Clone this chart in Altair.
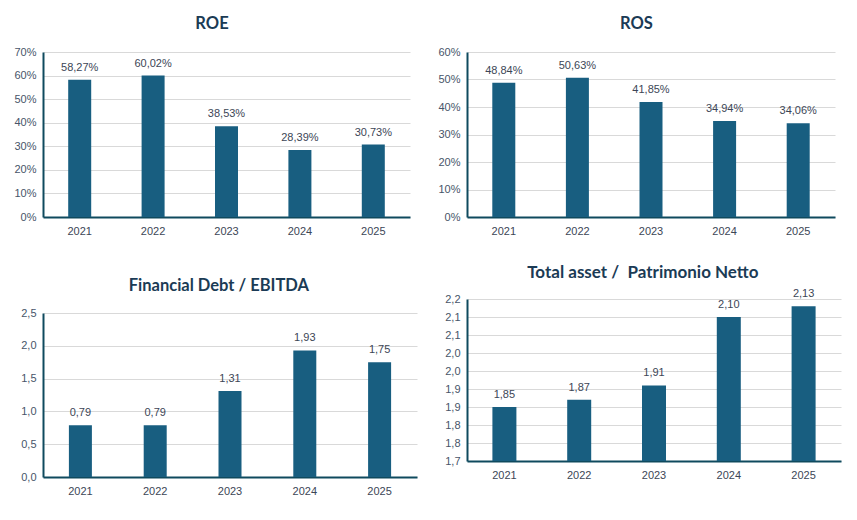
import altair as alt
import pandas as pd

years = ["2021", "2022", "2023", "2024", "2025"]
roe = [58.27, 60.02, 38.53, 28.39, 30.73]
ros = [48.84, 50.63, 41.85, 34.94, 34.06]
debt_ebitda = [0.79, 0.79, 1.31, 1.93, 1.75]
asset_pn = [1.85, 1.87, 1.91, 2.10, 2.13]

roe_ticks = [0, 10, 20, 30, 40, 50, 60, 70]
ros_ticks = [0, 10, 20, 30, 40, 50, 60]
debt_ticks = [0.0, 0.5, 1.0, 1.5, 2.0, 2.5]
asset_ticks = [1.70, 1.75, 1.80, 1.85, 1.90, 1.95, 2.00, 2.05, 2.10, 2.15]

BAR = "#185e80"
AXIS = "#0f4a5e"
TXT = "#3c4656"
YTXT = "#475569"
TITLE = "#1b3b55"


def panel(values, title, ticks, label_expr, text_expr, width, height, title_style, size):
    df = pd.DataFrame({"year": years, "v": values})
    lo, hi = ticks[0], ticks[-1]
    x = alt.X("year:N", title=None, sort=years,
              axis=alt.Axis(labelAngle=0, ticks=False, labelPadding=8, domainColor=AXIS,
                            domainWidth=2, labelColor=TXT, labelFont="Liberation Sans",
                            labelFontSize=11, grid=False))
    y = alt.Y("v:Q", title=None,
              scale=alt.Scale(domain=[lo, hi], zero=False, nice=False),
              axis=alt.Axis(values=ticks, labelExpr=label_expr, ticks=False, labelPadding=7,
                            labelOverlap=False, labelFlush=False,
                            domainColor=AXIS, domainWidth=2, gridColor="#d9d9d9",
                            gridWidth=1, labelColor=YTXT, labelFont="Liberation Sans",
                            labelFontSize=11))
    base = alt.Chart(df).encode(x=x, y=y)
    bars = base.mark_bar(size=size, color=BAR).encode(y2=alt.datum(lo))
    labels = base.transform_calculate(lbl=text_expr).mark_text(
        baseline="bottom", dy=-7, font="Liberation Sans", fontSize=11, color=TXT
    ).encode(text="lbl:N")
    return alt.layer(bars, labels).properties(
        width=width, height=height,
        title=alt.TitleParams(title, font="Lato", fontWeight="bold", fontSize=title_style[0],
                              color=TITLE, anchor="middle", frame="bounds",
                              offset=title_style[1]))


pct_lbl = "datum.value + '%'"
dec_lbl = "replace(format(datum.value + 1e-9, '.1f'), '.', ',')"
pct_txt = "replace(format(datum.v, '.2f'), '.', ',') + '%'"
dec_txt = "replace(format(datum.v, '.2f'), '.', ',')"

c1 = panel(roe, "ROE", roe_ticks, pct_lbl, pct_txt, 367, 165, (16.5, 14), 23)
c2 = panel(ros, "ROS", ros_ticks, pct_lbl, pct_txt, 368, 165, (16.5, 14), 23)
c3 = panel(debt_ebitda, "Financial Debt / EBITDA", debt_ticks, dec_lbl, dec_txt, 374, 164, (16.5, 13), 23)
c4 = panel(asset_pn, "Total asset /\u00a0 Patrimonio Netto", asset_ticks, dec_lbl, dec_txt, 374, 162, (17, 6), 24)

left = alt.vconcat(c1, c3, spacing=41)
right = alt.vconcat(c2, c4, spacing=28)
chart = alt.hconcat(left, right, spacing=20).configure_view(stroke=None).properties(
    padding={"left": 5, "top": 7, "right": 5, "bottom": 5})

chart.save("out.html", embed_options={"renderer": "svg", "actions": False})
